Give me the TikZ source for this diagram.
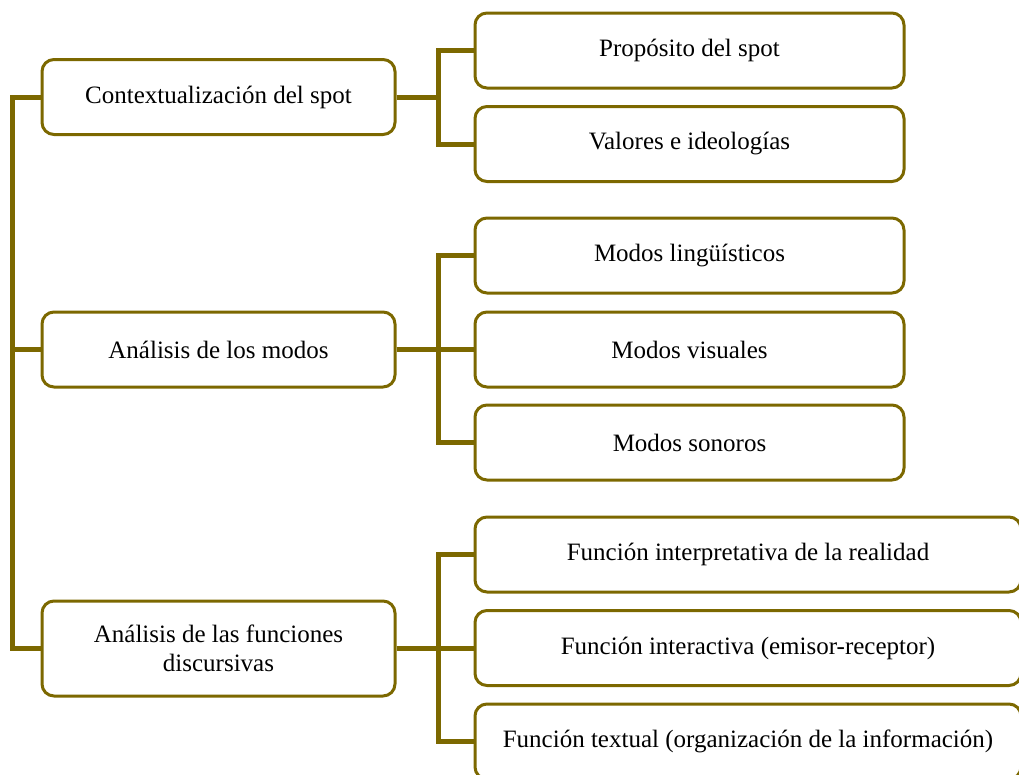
\documentclass[tikz,border=0pt]{standalone}
\usepackage{fontspec}
\setmainfont{Liberation Serif}
\definecolor{olivel}{RGB}{124,104,0}
\begin{document}
\begin{tikzpicture}[x=1pt,y=-1pt,
  box/.style={draw=olivel, line width=3pt, rounded corners=12pt, fill=white,
    align=center, inner sep=0pt, font=\fontsize{25}{29}\selectfont},
  lbox/.style={box, minimum width=353pt, minimum height=75pt},
  rbox/.style={box, minimum width=429pt, minimum height=75pt},
  wbox/.style={box, minimum width=546pt, minimum height=75pt},
  conn/.style={draw=olivel, line width=5pt}]
\useasboundingbox (0,0) rectangle (1019,774);
% left boxes
\node[lbox] (ctx) at (218.5,97) {Contextualización del spot};
\node[lbox] (mod) at (218.5,349.5) {Análisis de los modos};
\node[lbox, minimum height=95pt] (fun) at (218.5,648.5) {Análisis de las funciones\\discursivas};
% right boxes
\node[rbox] (p1) at (689.5,50.5) {Propósito del spot};
\node[rbox] (p2) at (689.5,144) {Valores e ideologías};
\node[rbox] (m1) at (689.5,255.5) {Modos lingüísticos};
\node[rbox] (m2) at (689.5,349.5) {Modos visuales};
\node[rbox] (m3) at (689.5,442.5) {Modos sonoros};
\node[wbox] (f1) at (748,554.5) {Función interpretativa de la realidad};
\node[wbox] (f2) at (748,648) {Función interactiva (emisor-receptor)};
\node[wbox] (f3) at (748,741.5) {Función textual (organización de la información)};
% connectors
\draw[conn] (ctx.west) -- ++(-28,0) -- ++(0,551.5) -- (fun.west);
\draw[conn] (mod.west) -- ++(-28,0);
\foreach \c in {p1,p2} \draw[conn] (ctx.east) -- ++(42,0) |- (\c.west);
\foreach \c in {m1,m2,m3} \draw[conn] (mod.east) -- ++(42,0) |- (\c.west);
\foreach \c in {f1,f2,f3} \draw[conn] (fun.east) -- ++(42,0) |- (\c.west);
\end{tikzpicture}
\end{document}
